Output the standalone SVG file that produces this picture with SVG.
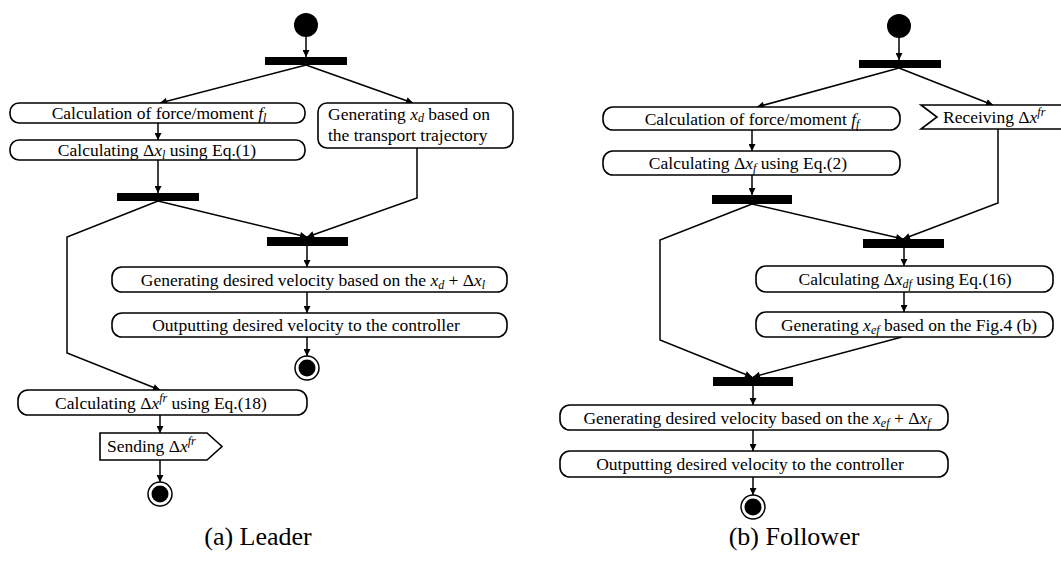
<svg xmlns="http://www.w3.org/2000/svg" width="1061" height="576" viewBox="0 0 1061 576">
<style>
.box{fill:#fff;stroke:#000;stroke-width:1.6}
.bar{fill:#000}
.t{font-family:"Liberation Serif","Times New Roman",serif;font-size:17.5px;fill:#000}
.m{font-style:italic}
.s{font-size:12px;font-style:italic}
.cap{font-family:"Liberation Serif","Times New Roman",serif;font-size:26px;fill:#000}
.c{fill:none;stroke:#000;stroke-width:1.5}
.ring{fill:#fff;stroke:#000;stroke-width:1.5}
</style>
<defs>
<marker id="ah" viewBox="0 0 10 10" refX="10" refY="5" markerUnits="userSpaceOnUse" markerWidth="8" markerHeight="7" orient="auto">
<path d="M0,0 L10,5 L0,10 z" fill="#000"/>
</marker>
</defs>
<rect width="1061" height="576" fill="#fff"/>

<g id="connectors">
<!-- leader -->
<line class="c" x1="306" y1="37" x2="306" y2="57" marker-end="url(#ah)"/>
<line class="c" x1="306" y1="65" x2="160" y2="103" marker-end="url(#ah)"/>
<line class="c" x1="306" y1="65" x2="413" y2="103" marker-end="url(#ah)"/>
<line class="c" x1="158" y1="123" x2="158" y2="140" marker-end="url(#ah)"/>
<line class="c" x1="158" y1="160" x2="158" y2="193" marker-end="url(#ah)"/>
<polyline class="c" points="417,148 417,198 307,237" marker-end="url(#ah)"/>
<line class="c" x1="158" y1="201" x2="307" y2="237" marker-end="url(#ah)"/>
<polyline class="c" points="158,201 67,237 67,353 160,390" marker-end="url(#ah)"/>
<line class="c" x1="307" y1="246" x2="307" y2="267" marker-end="url(#ah)"/>
<line class="c" x1="307" y1="292" x2="307" y2="313" marker-end="url(#ah)"/>
<line class="c" x1="307" y1="337" x2="307" y2="356" marker-end="url(#ah)"/>
<line class="c" x1="160" y1="415" x2="160" y2="433" marker-end="url(#ah)"/>
<line class="c" x1="160" y1="460" x2="160" y2="482" marker-end="url(#ah)"/>
<!-- follower -->
<line class="c" x1="899" y1="38" x2="899" y2="60" marker-end="url(#ah)"/>
<line class="c" x1="899" y1="68" x2="757" y2="107" marker-end="url(#ah)"/>
<line class="c" x1="899" y1="68" x2="993" y2="105" marker-end="url(#ah)"/>
<line class="c" x1="752" y1="130" x2="752" y2="151" marker-end="url(#ah)"/>
<line class="c" x1="752" y1="175" x2="752" y2="195" marker-end="url(#ah)"/>
<polyline class="c" points="998,129 998,203 903,239" marker-end="url(#ah)"/>
<line class="c" x1="752" y1="204" x2="903" y2="239" marker-end="url(#ah)"/>
<polyline class="c" points="752,204 660,240 660,340 752,377" marker-end="url(#ah)"/>
<line class="c" x1="904" y1="248" x2="904" y2="266" marker-end="url(#ah)"/>
<line class="c" x1="904" y1="292" x2="904" y2="312" marker-end="url(#ah)"/>
<line class="c" x1="902" y1="337" x2="753" y2="377" marker-end="url(#ah)"/>
<line class="c" x1="753" y1="386" x2="753" y2="405" marker-end="url(#ah)"/>
<line class="c" x1="753" y1="430" x2="753" y2="451" marker-end="url(#ah)"/>
<line class="c" x1="753" y1="477" x2="753" y2="495" marker-end="url(#ah)"/>
</g>

<!-- Leader nodes -->
<g id="a-start"><circle cx="306" cy="25" r="12" fill="#000"/></g>
<g id="a-fork1"><rect class="bar" x="265" y="57" width="82" height="8"/></g>
<g id="a-force">
<rect class="box" x="10" y="103" width="295" height="20" rx="9"/>
<text class="t" x="159" y="119" text-anchor="middle">Calculation of force/moment <tspan class="m">f</tspan><tspan class="s" dy="3">l</tspan></text>
</g>
<g id="a-dxl">
<rect class="box" x="10" y="140" width="295" height="20" rx="9"/>
<text class="t" x="157" y="156" text-anchor="middle">Calculating Δ<tspan class="m">x</tspan><tspan class="s" dy="3">l</tspan><tspan dy="-3"> using Eq.(1)</tspan></text>
</g>
<g id="a-xd">
<rect class="box" x="318" y="103" width="195" height="45" rx="9"/>
<text class="t" x="328" y="120">Generating <tspan class="m">x</tspan><tspan class="s" dy="2">d</tspan><tspan dy="-2"> based on</tspan></text>
<text class="t" x="328" y="141">the transport trajectory</text>
</g>
<g id="a-fork2"><rect class="bar" x="117" y="193" width="82" height="8"/></g>
<g id="a-join"><rect class="bar" x="267" y="237" width="81" height="9"/></g>
<g id="a-vel">
<rect class="box" x="112" y="267" width="395" height="25" rx="10"/>
<text class="t" x="313" y="285.5" text-anchor="middle">Generating desired velocity based on the <tspan class="m">x</tspan><tspan class="s" dy="3">d</tspan><tspan dy="-3"> + Δ</tspan><tspan class="m">x</tspan><tspan class="s" dy="3">l</tspan></text>
</g>
<g id="a-out">
<rect class="box" x="112" y="313" width="395" height="24" rx="10"/>
<text class="t" x="306" y="331" text-anchor="middle">Outputting desired velocity to the controller</text>
</g>
<g id="a-end1"><circle class="ring" cx="307" cy="368" r="12"/><circle cx="307" cy="368" r="8.5" fill="#000"/></g>
<g id="a-dxfr">
<rect class="box" x="18" y="390" width="289" height="25" rx="10"/>
<text class="t" x="161" y="408.5" text-anchor="middle">Calculating Δ<tspan class="m">x</tspan><tspan class="s" dy="-7">fr</tspan><tspan dy="7"> using Eq.(18)</tspan></text>
</g>
<g id="a-send">
<polygon class="box" points="100,433 207,433 222,446.5 207,460 100,460"/>
<text class="t" x="107" y="452">Sending Δ<tspan class="m">x</tspan><tspan class="s" dy="-7">fr</tspan></text>
</g>
<g id="a-end2"><circle class="ring" cx="160" cy="494" r="12"/><circle cx="160" cy="494" r="8.5" fill="#000"/></g>
<g id="a-caption"><text class="cap" x="258" y="545" text-anchor="middle">(a) Leader</text></g>

<!-- Follower nodes -->
<g id="b-start"><circle cx="899" cy="26" r="12" fill="#000"/></g>
<g id="b-fork1"><rect class="bar" x="859" y="60" width="82" height="8"/></g>
<g id="b-force">
<rect class="box" x="603" y="107" width="297" height="23" rx="10"/>
<text class="t" x="752" y="124.5" text-anchor="middle">Calculation of force/moment <tspan class="m">f</tspan><tspan class="s" dy="3">f</tspan></text>
</g>
<g id="b-dxf">
<rect class="box" x="603" y="151" width="297" height="24" rx="10"/>
<text class="t" x="748" y="169" text-anchor="middle">Calculating Δ<tspan class="m">x</tspan><tspan class="s" dy="3">f</tspan><tspan dy="-3"> using Eq.(2)</tspan></text>
</g>
<g id="b-recv">
<path class="box" d="M1062,105 L921,105 L937,117 L921,129 L1062,129"/>
<text class="t" x="943" y="123">Receiving Δ<tspan class="m">x</tspan><tspan class="s" dy="-7">fr</tspan></text>
</g>
<g id="b-fork2"><rect class="bar" x="712" y="195" width="80" height="9"/></g>
<g id="b-join1"><rect class="bar" x="863" y="239" width="81" height="9"/></g>
<g id="b-dxdf">
<rect class="box" x="756" y="266" width="297" height="26" rx="10"/>
<text class="t" x="905" y="285" text-anchor="middle">Calculating Δ<tspan class="m">x</tspan><tspan class="s" dy="3">df</tspan><tspan dy="-3"> using Eq.(16)</tspan></text>
</g>
<g id="b-xef">
<rect class="box" x="756" y="312" width="297" height="25" rx="10"/>
<text class="t" x="909" y="330.5" text-anchor="middle">Generating <tspan class="m">x</tspan><tspan class="s" dy="3">ef</tspan><tspan dy="-3"> based on the Fig.4 (b)</tspan></text>
</g>
<g id="b-join2"><rect class="bar" x="713" y="377" width="80" height="9"/></g>
<g id="b-vel">
<rect class="box" x="560" y="405" width="388" height="25" rx="10"/>
<text class="t" x="757" y="423.5" text-anchor="middle">Generating desired velocity based on the <tspan class="m">x</tspan><tspan class="s" dy="3">ef</tspan><tspan dy="-3"> + Δ</tspan><tspan class="m">x</tspan><tspan class="s" dy="3">f</tspan></text>
</g>
<g id="b-out">
<rect class="box" x="560" y="451" width="388" height="26" rx="10"/>
<text class="t" x="750" y="470" text-anchor="middle">Outputting desired velocity to the controller</text>
</g>
<g id="b-end"><circle class="ring" cx="753" cy="507" r="12"/><circle cx="753" cy="507" r="8.5" fill="#000"/></g>
<g id="b-caption"><text class="cap" x="794" y="545" text-anchor="middle">(b) Follower</text></g>
</svg>
